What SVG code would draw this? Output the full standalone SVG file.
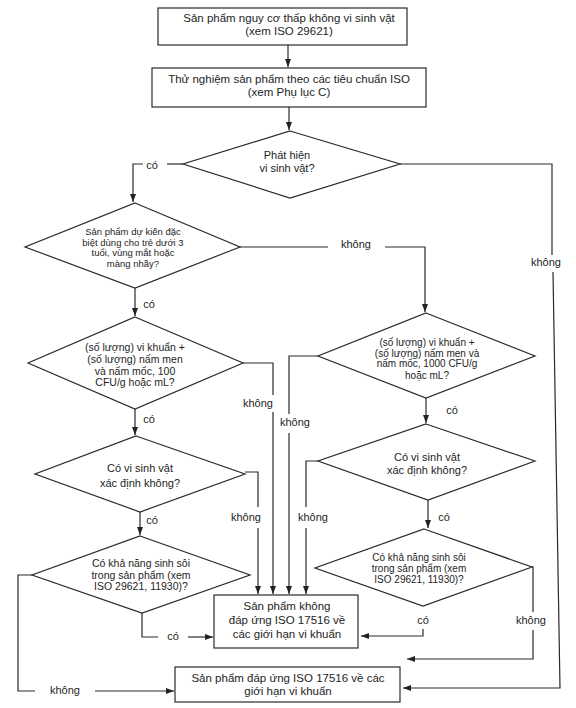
<svg xmlns="http://www.w3.org/2000/svg" width="576" height="708" viewBox="0 0 576 708">
<defs>
<marker id="arr" markerUnits="userSpaceOnUse" markerWidth="8" markerHeight="6" refX="8" refY="3" orient="auto">
<path d="M0,0 L8,3 L0,6 z" fill="#222"/>
</marker>
<style>
.shape{fill:#fff;stroke:#2a2a2a;stroke-width:1.2}
.ln{fill:none;stroke:#2a2a2a;stroke-width:1.2}
.ar{marker-end:url(#arr)}
text{font-family:"Liberation Sans",Arial,sans-serif;fill:#1e1e1e;text-anchor:middle}
.t115{font-size:11.5px}
.t11{font-size:11px}
.t105{font-size:10.5px}
.t10{font-size:10px}
.t95{font-size:9.5px}
.lbl{font-size:11px}
</style>
</defs>
<rect width="576" height="708" fill="#fff"/>

<g id="connectors">
<path class="ln ar" d="M288,45 V67"/>
<path class="ln ar" d="M289,107 V130"/>
<path class="ln" d="M183,164 H167"/>
<path class="ln ar" d="M143,164 H133 V202"/>
<path class="ln" d="M400,164 H552 V255"/>
<path class="ln ar" d="M553,272 L560,688 H403"/>
<path class="ln" d="M240,247 H328"/>
<path class="ln ar" d="M385,247 H425 V312"/>
<path class="ln ar" d="M135,288 V316"/>
<path class="ln" d="M243,363 H273 V395"/>
<path class="ln ar" d="M273,412 V594"/>
<path class="ln ar" d="M135,409 V435"/>
<path class="ln" d="M318,356 H289 V414"/>
<path class="ln ar" d="M289,433 V594"/>
<path class="ln ar" d="M426,398 V423"/>
<path class="ln" d="M245,472 H258 V507"/>
<path class="ln ar" d="M258,528 V594"/>
<path class="ln ar" d="M140,512 V535"/>
<path class="ln" d="M318,461 H306 V507"/>
<path class="ln ar" d="M306,528 V594"/>
<path class="ln ar" d="M428,500 V528"/>
<path class="ln" d="M142,613 V637 H158"/>
<path class="ln ar" d="M188,637 H213"/>
<path class="ln" d="M32,575 H18 V691 H35"/>
<path class="ln ar" d="M95,691 H174"/>
<path class="ln ar" d="M423,629 V636 H361"/>
<path class="ln" d="M532,567 H533 V612"/>
<path class="ln ar" d="M533,630 V659 H407"/>
<text class="lbl" x="152" y="169">có</text>
<text class="lbl" x="546" y="266">không</text>
<text class="lbl" x="356" y="248">không</text>
<text class="lbl" x="149" y="308">có</text>
<text class="lbl" x="149" y="423">có</text>
<text class="lbl" x="152" y="524">có</text>
<text class="lbl" x="258" y="407">không</text>
<text class="lbl" x="295" y="426">không</text>
<text class="lbl" x="246" y="521">không</text>
<text class="lbl" x="313" y="521">không</text>
<text class="lbl" x="452" y="414">có</text>
<text class="lbl" x="444" y="521">có</text>
<text class="lbl" x="173" y="640">có</text>
<text class="lbl" x="65" y="694">không</text>
<text class="lbl" x="423" y="624">có</text>
<text class="lbl" x="531" y="624">không</text>
</g>

<g id="start">
<rect class="shape" x="158" y="8" width="249" height="37"/>
<text class="t115" x="289" y="22">Sản phẩm nguy cơ thấp không vi sinh vật</text>
<text class="t115" x="289" y="35">(xem ISO 29621)</text>
</g>

<g id="test">
<rect class="shape" x="152" y="68" width="274" height="39"/>
<text class="t115" x="289" y="83">Thử nghiệm sản phẩm theo các tiêu chuẩn ISO</text>
<text class="t115" x="289" y="96">(xem Phụ lục C)</text>
</g>

<g id="detect">
<polygon class="shape" points="290,131 400,164 290,198 183,164"/>
<text class="t11" x="287" y="159">Phát hiện</text>
<text class="t11" x="287" y="172">vi sinh vật?</text>
</g>

<g id="special">
<polygon class="shape" points="135,203 240,247 135,288 25,247"/>
<text class="t95" x="133" y="235">Sản phẩm dự kiến đặc</text>
<text class="t95" x="133" y="246">biệt dùng cho trẻ dưới 3</text>
<text class="t95" x="133" y="256">tuổi, vùng mắt hoặc</text>
<text class="t95" x="133" y="267">màng nhầy?</text>
</g>

<g id="count100">
<polygon class="shape" points="135,317 243,363 135,409 28,363"/>
<text class="t105" x="135" y="351">(số lượng) vi khuẩn +</text>
<text class="t105" x="135" y="363">(số lượng) nấm men</text>
<text class="t105" x="135" y="375">và nấm mốc, 100</text>
<text class="t105" x="135" y="386">CFU/g hoặc mL?</text>
</g>

<g id="identified-left">
<polygon class="shape" points="136,436 245,474 140,512 35,474"/>
<text class="t11" x="140" y="472">Có vi sinh vật</text>
<text class="t11" x="140" y="487">xác định không?</text>
</g>

<g id="grow-left">
<polygon class="shape" points="140,536 250,575 142,613 32,575"/>
<text class="t105" x="141" y="567">Có khả năng sinh sôi</text>
<text class="t105" x="141" y="579">trong sản phẩm (xem</text>
<text class="t105" x="141" y="590">ISO 29621, 11930)?</text>
</g>

<g id="count1000">
<polygon class="shape" points="426,313 535,356 426,398 318,356"/>
<text class="t10" x="427" y="346">(số lượng) vi khuẩn +</text>
<text class="t10" x="427" y="357">(số lượng) nấm men và</text>
<text class="t10" x="427" y="367">nấm mốc, 1000 CFU/g</text>
<text class="t10" x="427" y="379">hoặc mL?</text>
</g>

<g id="identified-right">
<polygon class="shape" points="426,424 535,461 428,500 318,461"/>
<text class="t11" x="427" y="461">Có vi sinh vật</text>
<text class="t11" x="427" y="474">xác định không?</text>
</g>

<g id="grow-right">
<polygon class="shape" points="424,529 532,567 423,606 315,568"/>
<text class="t10" x="419" y="561">Có khả năng sinh sôi</text>
<text class="t10" x="419" y="572">trong sản phẩm (xem</text>
<text class="t10" x="419" y="583">ISO 29621, 11930)?</text>
</g>

<g id="fail">
<rect class="shape" x="214" y="595" width="144" height="53"/>
<text class="t115" x="287" y="610">Sản phẩm không</text>
<text class="t115" x="287" y="624">đáp ứng ISO 17516 về</text>
<text class="t115" x="287" y="638">các giới hạn vi khuẩn</text>
</g>

<g id="pass">
<rect class="shape" x="175" y="667" width="225" height="35"/>
<text class="t115" x="288" y="682">Sản phẩm đáp ứng ISO 17516 về các</text>
<text class="t115" x="288" y="695">giới hạn vi khuẩn</text>
</g>
</svg>
